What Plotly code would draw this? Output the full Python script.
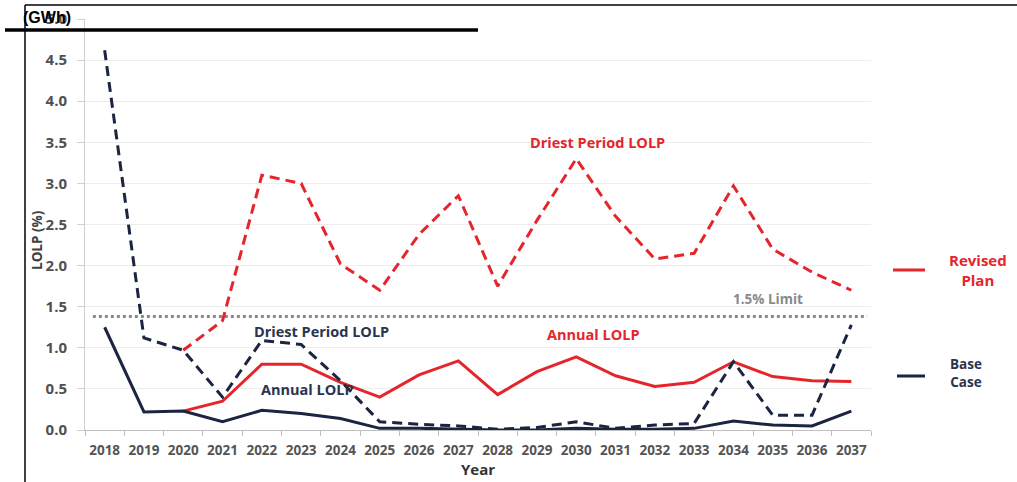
import plotly.graph_objects as go

years = [str(y) for y in range(2018, 2038)]

base_driest = [4.62, 1.12, 0.97, 0.40, 1.09, 1.04, 0.60, 0.10, 0.07, 0.05,
               0.01, 0.03, 0.10, 0.02, 0.06, 0.08, 0.83, 0.18, 0.18, 1.28]
base_annual = [1.25, 0.22, 0.23, 0.10, 0.24, 0.20, 0.14, 0.02, 0.02, 0.01,
               0.00, 0.00, 0.02, 0.01, 0.01, 0.02, 0.11, 0.06, 0.05, 0.23]
revised_driest = [None, None, 0.97, 1.33, 3.10, 3.00, 2.02, 1.70, 2.38, 2.85,
                  1.75, 2.55, 3.30, 2.60, 2.08, 2.15, 2.97, 2.20, 1.92, 1.70]
revised_annual = [None, None, 0.23, 0.35, 0.80, 0.80, 0.58, 0.40, 0.67, 0.84,
                  0.43, 0.71, 0.89, 0.66, 0.53, 0.58, 0.83, 0.65, 0.60, 0.59]
limit = 1.38

RED = "#E4252B"
NAVY = "#1B2440"
FONT = "Open Sans"
DASH = "10px,6px"

fig = go.Figure()
fig.add_trace(go.Scatter(x=years, y=revised_driest, mode="lines", name="Revised Plan driest",
                         line=dict(color=RED, width=3, dash=DASH), showlegend=False))
fig.add_trace(go.Scatter(x=years, y=revised_annual, mode="lines", name="Revised Plan annual",
                         line=dict(color=RED, width=3), showlegend=False))
fig.add_trace(go.Scatter(x=years, y=base_driest, mode="lines", name="Base Case driest",
                         line=dict(color=NAVY, width=3, dash=DASH), showlegend=False))
fig.add_trace(go.Scatter(x=years, y=base_annual, mode="lines", name="Base Case annual",
                         line=dict(color=NAVY, width=3), showlegend=False))

L, R, T, B = 85, 146, 19, 52
W, H = 1017, 482
pw, ph = W - L - R, H - T - B


def px(x):
    return (x - L) / pw


def py(y):
    return (H - B - y) / ph


shapes = [
    # 1.5% limit line
    dict(type="line", xref="paper", yref="y", x0=0.01, x1=0.995, y0=limit, y1=limit,
         line=dict(color="#8A8A8A", width=3, dash="dot"), layer="below"),
    # legend lines
    dict(type="line", xref="paper", yref="paper", x0=px(893), x1=px(925), y0=py(270), y1=py(270),
         line=dict(color=RED, width=3)),
    dict(type="line", xref="paper", yref="paper", x0=px(897), x1=px(925), y0=py(376), y1=py(376),
         line=dict(color=NAVY, width=3)),
    # frame lines
    dict(type="line", xref="paper", yref="paper", x0=px(25), x1=px(1017), y0=py(5), y1=py(5),
         line=dict(color="black", width=1.5)),
    dict(type="line", xref="paper", yref="paper", x0=px(25), x1=px(25), y0=py(5), y1=py(482),
         line=dict(color="black", width=1.5)),
    dict(type="line", xref="paper", yref="paper", x0=px(5), x1=px(478), y0=py(30), y1=py(30),
         line=dict(color="black", width=3.5)),
]


def pnote(text, x, y, size, color, family=FONT, angle=0):
    return dict(text=text, x=px(x), y=py(y), xref="paper", yref="paper", showarrow=False,
                xanchor="center", yanchor="middle", align="center", textangle=angle,
                font=dict(family=family, size=size, color=color, weight="bold"))


def dnote(text, x, y, size, color):
    return dict(text=text, x=x, y=y, xref="x", yref="y", showarrow=False,
                xanchor="center", yanchor="middle",
                font=dict(family=FONT, size=size, color=color, weight="bold"))


annotations = [
    dnote("Driest Period LOLP", 12.53, 3.50, 14.5, RED),
    dnote("1.5% Limit", 16.89, 1.59, 13.5, "#8A8A8A"),
    dnote("Annual LOLP", 12.43, 1.16, 14.5, RED),
    dnote("Driest Period LOLP", 5.53, 1.20, 14.5, "#2A3350"),
    dnote("Annual LOLP", 5.15, 0.49, 14.5, "#2A3350"),
    pnote("Revised<br>Plan", 978, 270, 15, RED),
    pnote("Base<br>Case", 966, 373, 13.5, "#2A3350"),
    pnote("LOLP (%)", 37, 240, 13.5, "#404040", angle=-90),
    pnote("(GWh)", 47, 17, 16, "black",
          family="Liberation Sans Narrow, Arial Narrow, Liberation Sans"),
]

fig.update_layout(
    width=W, height=H,
    margin=dict(l=L, r=R, t=T, b=B),
    paper_bgcolor="white", plot_bgcolor="white",
    shapes=shapes, annotations=annotations,
    xaxis=dict(type="category", range=[-0.5, 19.5], showgrid=False, showline=True,
               linecolor="#BFBFBF", linewidth=1, automargin=False, tickangle=0,
               ticks="outside", ticklen=5, tickcolor="#BFBFBF", tickson="boundaries",
               ticklabelstandoff=8,
               tickfont=dict(family=FONT, size=13.5, color="#555555", weight="bold"),
               title=dict(text="Year", standoff=2,
                          font=dict(family=FONT, size=15, color="#333333", weight="bold"))),
    yaxis=dict(range=[0, 5], dtick=0.5, tickformat=".1f", showgrid=True, gridcolor="#EDEDED",
               showline=True, linecolor="#D0D0D0", linewidth=1, zeroline=False,
               automargin=False,
               ticks="outside", ticklen=7, tickcolor="#D0D0D0",
               tickfont=dict(family=FONT, size=15, color="#505050", weight="bold"),
               ticklabelstandoff=7),
)

fig.write_html("out.html", config={"displayModeBar": False},
               post_script="document.body.style.margin='0';document.body.style.overflow='hidden';")
